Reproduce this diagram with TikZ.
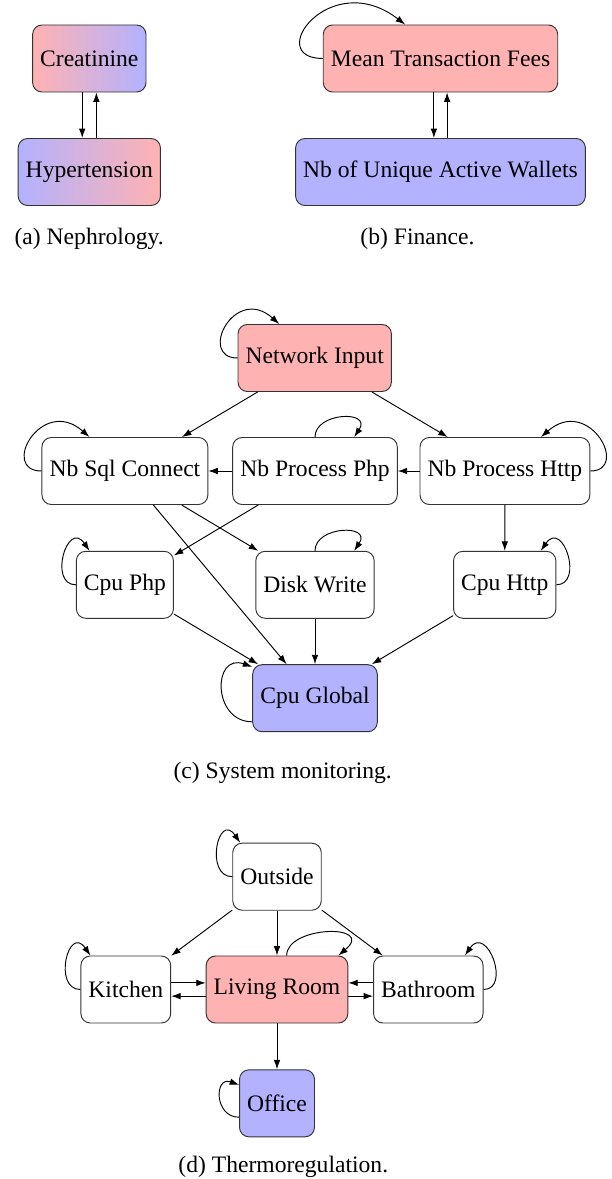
\documentclass[tikz,border=0pt]{standalone}
\usepackage{fontspec}
\setmainfont{Liberation Serif}
\usetikzlibrary{arrows.meta}
\tikzset{
    var/.style={rectangle, rounded corners=4pt, draw=black!80, minimum height=28.4pt, inner xsep=3.2pt, align=center},
    cause/.style={var, fill=red!30},
    effect/.style={var, fill=blue!30},
    arrow/.style={-{Latex[length=4pt, width=2.8pt]}, black},
    subcap/.style={anchor=base},
}

\begin{document}
\begin{tikzpicture}[x=0.4237pt, y=-0.4237pt]
\useasboundingbox (0,0) rectangle (611,1179);

% (a) Nephrology
\node[var, left color=red!30, right color=blue!30] (crea) at (89.3,58.5) {Creatinine};
\node[var, left color=blue!30, right color=red!30] (hyp) at (89.3,172) {Hypertension};
\draw[arrow] ([xshift=-3pt]crea.south) -- ([xshift=-3pt]hyp.north);
\draw[arrow] ([xshift=3pt]hyp.north) -- ([xshift=3pt]crea.south);
\node[subcap] (capa) at (89.2,244.5) {(a) Nephrology.};

% (b) Finance
\node[cause] (fees) at (440.5,58.5) {Mean Transaction Fees};
\node[effect] (wal) at (440.5,172) {Nb of Unique Active Wallets};
\draw[arrow] ([xshift=-2.8pt]fees.south) -- ([xshift=-2.8pt]wal.north);
\draw[arrow] ([xshift=2.8pt]wal.north) -- ([xshift=2.8pt]fees.south);
\draw[arrow] (fees.west) .. controls +(-60,0) and +(-75,-58) .. ([xshift=-15pt]fees.north);
\node[subcap] (capb) at (417.5,244.5) {(b) Finance.};

% (c) System monitoring
\node[cause] (net) at (314.7,358) {Network Input};
\node[var] (sql) at (124.9,471) {Nb Sql Connect};
\node[var] (php) at (315,471) {Nb Process Php};
\node[var] (http) at (504.9,471) {Nb Process Http};
\node[var] (cphp) at (124.9,584.8) {Cpu Php};
\node[var] (disk) at (315,584.8) {Disk Write};
\node[var] (chttp) at (504.7,584.8) {Cpu Http};
\node[effect] (cglob) at (315,698.2) {Cpu Global};

\draw[arrow] (net) -- (sql);
\draw[arrow] (net) -- (http);
\draw[arrow] (http) -- (php);
\draw[arrow] (php) -- (sql);
\draw[arrow] (sql) -- (disk);
\draw[arrow] (php) -- (cphp);
\draw[arrow] (sql) -- (cglob);
\draw[arrow] (http) -- (chttp);
\draw[arrow] (cphp) -- (cglob);
\draw[arrow] (disk) -- (cglob);
\draw[arrow] (chttp) -- (cglob);

% self loops
\draw[arrow] (net.west) .. controls +(-40,0) and +(-45,-40) .. ([xshift=-15pt]net.north);
\draw[arrow] (sql.west) .. controls +(-42,0) and +(-48,-42) .. ([xshift=-15pt]sql.north);
\draw[arrow] (php.north) .. controls +(0,-25) and +(18,-27) .. ([xshift=16.6pt]php.north);
\draw[arrow] (http.east) .. controls +(40,0) and +(48,-42) .. ([xshift=15.3pt]http.north);
\draw[arrow] (cphp.west) .. controls +(-28,0) and +(-22,-32) .. ([xshift=-15pt]cphp.north);
\draw[arrow] (disk.north) .. controls +(0,-25) and +(18,-27) .. ([xshift=16.6pt]disk.north);
\draw[arrow] (chttp.east) .. controls +(28,0) and +(22,-32) .. ([xshift=15.3pt]chttp.north);
\draw[arrow] ([yshift=-10pt]cglob.west) .. controls +(-40,0) and +(-40,-14) .. ([yshift=13.3pt]cglob.west);
\node[subcap] (capc) at (282.7,778.4) {(c) System monitoring.};

% (d) Thermoregulation
\node[var] (out) at (277,876.7) {Outside};
\node[var] (kit) at (125.8,989.5) {Kitchen};
\node[cause] (liv) at (277,989.5) {Living Room};
\node[var] (bath) at (428.3,989.5) {Bathroom};
\node[effect] (off) at (277,1103.3) {Office};

\draw[arrow] (out) -- (kit);
\draw[arrow] (out) -- (liv);
\draw[arrow] (out) -- (bath);
\draw[arrow] ([yshift=2.8pt]kit.east) -- ([yshift=2.8pt]liv.west);
\draw[arrow] ([yshift=-2.8pt]liv.west) -- ([yshift=-2.8pt]kit.east);
\draw[arrow] ([yshift=2.8pt]bath.west) -- ([yshift=2.8pt]liv.east);
\draw[arrow] ([yshift=-2.8pt]liv.east) -- ([yshift=-2.8pt]bath.west);
\draw[arrow] (liv) -- (off);

% self loops
\draw[arrow] (out.west) .. controls +(-28,0) and +(-22,-32) .. ([xshift=-15.6pt]out.north);
\draw[arrow] (kit.west) .. controls +(-28,0) and +(-22,-32) .. ([xshift=-15pt]kit.north);
\draw[arrow] ([xshift=4.1pt]liv.north) .. controls +(0,-30) and +(38,-32) .. ([xshift=26pt]liv.north);
\draw[arrow] (bath.east) .. controls +(28,0) and +(22,-32) .. ([xshift=15.5pt]bath.north);
\draw[arrow] ([yshift=-5.9pt]off.west) .. controls +(-25,0) and +(-25,-9) .. ([yshift=7.8pt]off.west);
\node[subcap] (capd) at (283.3,1172.5) {(d) Thermoregulation.};

\end{tikzpicture}
\end{document}
